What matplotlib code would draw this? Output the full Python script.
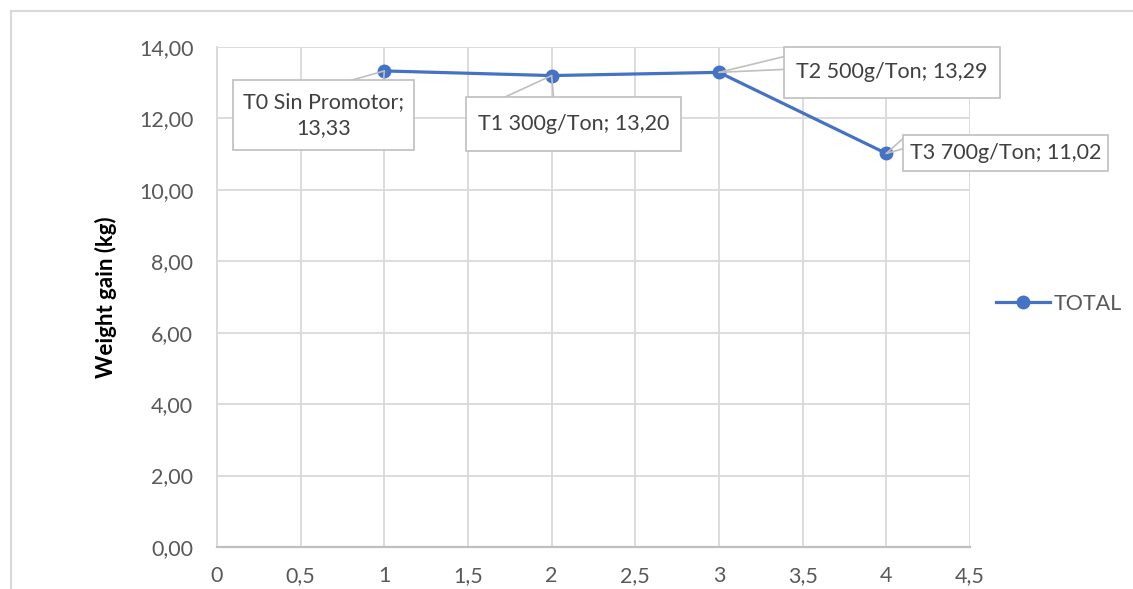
import matplotlib.pyplot as plt
from matplotlib.lines import Line2D
from matplotlib.path import Path
from matplotlib.ticker import FuncFormatter, MultipleLocator

# treatment data: x position, weight gain (kg), callout text
treat_x = [1, 2, 3, 4]
weight_gain = [13.33, 13.20, 13.29, 11.02]
treat_names = ["T0 Sin Promotor;\n", "T1 300g/Ton; ", "T2 500g/Ton; ", "T3 700g/Ton; "]

LINE_BLUE = "#4472C4"
GRID = "#d9d9d9"
TEXT = "#595959"
BOX_EDGE = "#bfbfbf"
FS = 15.5

plt.rcParams['font.family'] = ['Lato', 'DejaVu Sans']


def rect_box(pad_x, pad_y):
    """Square label box with separate horizontal / vertical padding (pixels)."""
    def style(x0, y0, width, height, mutation_size):
        x0, y0 = x0 - pad_x, y0 - pad_y
        x1, y1 = x0 + width + 2 * pad_x, y0 + height + 2 * pad_y
        return Path([(x0, y0), (x1, y0), (x1, y1), (x0, y1), (x0, y0)],
                    closed=True)
    return style


fig = plt.figure(figsize=(11.33, 5.89), dpi=100)
ax = fig.add_axes([0.1915, 0.0713, 0.6646, 0.8489])

line, = ax.plot(treat_x, weight_gain, color=LINE_BLUE, lw=2.3, marker='o',
                markersize=9, label='TOTAL', zorder=3)

ax.set_xlim(0, 4.5)
ax.set_ylim(0, 14)
ax.xaxis.set_major_locator(MultipleLocator(0.5))
ax.yaxis.set_major_locator(MultipleLocator(2))

def comma_fmt(fmt):
    return FuncFormatter(lambda v, pos: fmt(v).replace('.', ','))

ax.yaxis.set_major_formatter(comma_fmt(lambda v: f"{v:.2f}"))
ax.xaxis.set_major_formatter(comma_fmt(lambda v: f"{v:g}"))
ax.tick_params(axis='both', length=0, labelsize=FS, labelcolor=TEXT)
ax.tick_params(axis='y', pad=17)
ax.tick_params(axis='x', pad=14)

ax.grid(True, color=GRID, lw=1.3)
ax.set_axisbelow(True)
for side in ('top', 'right'):
    ax.spines[side].set_visible(False)
ax.spines['left'].set_color(GRID)
ax.spines['left'].set_linewidth(1.3)
ax.spines['bottom'].set_color(BOX_EDGE)
ax.spines['bottom'].set_linewidth(1.6)

ax.set_ylabel("Weight gain (kg)", fontsize=16, fontweight='bold', color='black')
ax.yaxis.set_label_coords(-0.133, 0.5)

# callout boxes: box centre offset from the point (pixels), padding (pixels)
offsets = [(-61, -44), (22, -48), (173, 0), (119, 0)]
box_pads = [(10, 12), (12, 17), (12, 15.5), (7, 8)]
spacing = [1.35, 1.2, 1.2, 1.2]
# the two leader lines of each callout, ending on the box edge (pixel offsets)
leaders = [[(-46, -13), (-1, -13)],
           [(-50, -23), (2, -23)],
           [(66, 16), (66, 3)],
           [(18, 16), (18, 5)]]

for x, y, name, off, pads, ls, legs in zip(treat_x, weight_gain, treat_names,
                                           offsets, box_pads, spacing, leaders):
    label = f"{name}{y:.2f}".replace('.', ',')
    ax.annotate(label, xy=(x, y), xytext=off, textcoords='offset pixels',
                ha='center', va='center', multialignment='center', linespacing=ls,
                fontsize=FS, color='#404040', zorder=6, annotation_clip=False,
                bbox=dict(boxstyle=rect_box(*pads), fc='white', ec=BOX_EDGE, lw=1.2))
    for leg in legs:
        ax.annotate("", xy=(x, y), xytext=leg, textcoords='offset pixels',
                    zorder=5, annotation_clip=False,
                    arrowprops=dict(arrowstyle='-', color=BOX_EDGE, lw=1.2,
                                    shrinkA=0, shrinkB=0))

fig.legend(handles=[line], loc='center left', bbox_to_anchor=(0.879, 0.484),
           frameon=False, fontsize=FS, labelcolor=TEXT, handlelength=2.5,
           handletextpad=0.2, borderaxespad=0, borderpad=0)

# outer chart border
fig.add_artist(Line2D([0.0097, 0.0097], [0, 0.9813], transform=fig.transFigure,
                      color=GRID, lw=1.5))
fig.add_artist(Line2D([0.0097, 1], [0.9813, 0.9813], transform=fig.transFigure,
                      color=GRID, lw=1.5))

fig.savefig("out.png", dpi=100, facecolor='white')
